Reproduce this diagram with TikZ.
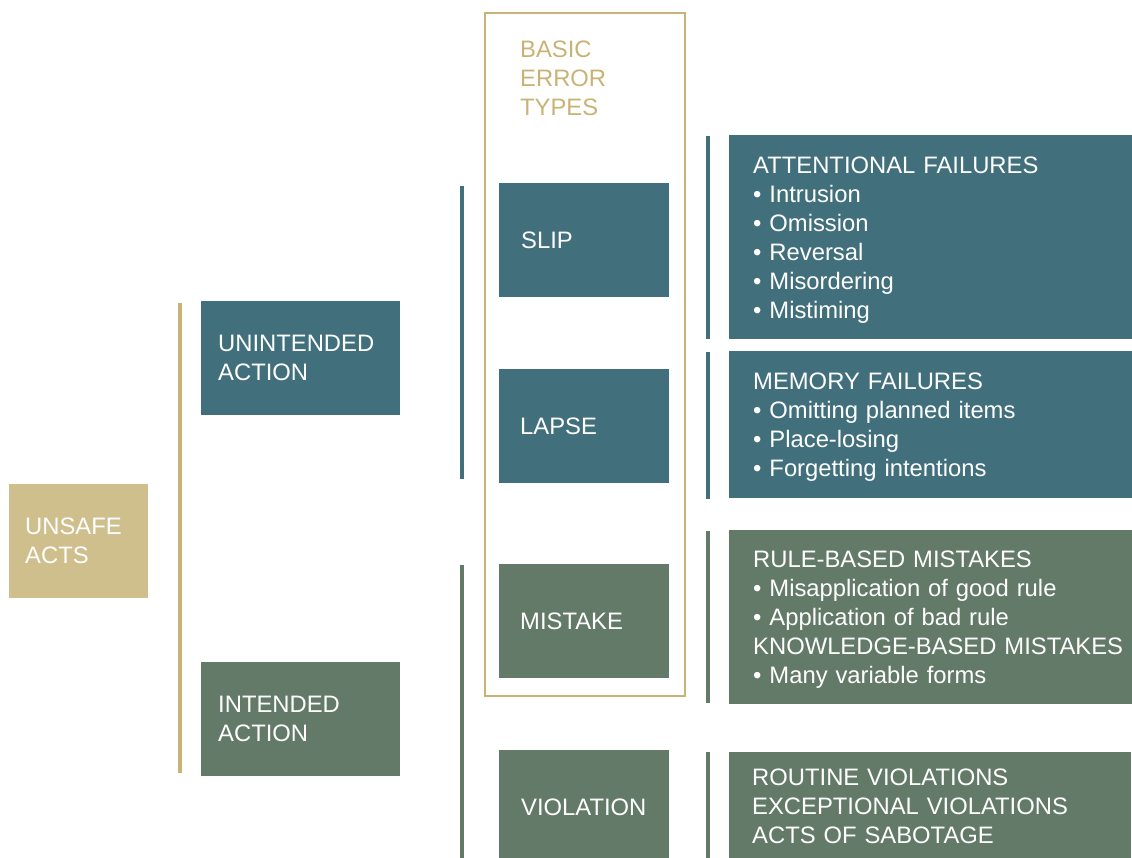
\documentclass[tikz,border=0pt]{standalone}
\usepackage{fontspec}
\setmainfont{Liberation Sans}
\definecolor{teal}{HTML}{41707C}
\definecolor{sage}{HTML}{647A69}
\definecolor{sand}{HTML}{CFBF8D}
\definecolor{sandline}{HTML}{C8B274}
% balances the descender of a list's last line, so the lines sit centred
\newcommand{\toplift}{\rule{0pt}{22pt}}
\begin{document}
\begin{tikzpicture}[x=1pt,y=-1pt,
  every node/.style={font=\fontsize{23.8}{29}\selectfont},
  box/.style={rectangle, anchor=north west, text=white, align=left,
              inner ysep=0pt},
  bar/.style={line width=4pt},
]
\useasboundingbox (0,0) rectangle (1132,858);

% level 1
\node[box, fill=sand, minimum height=114, inner xsep=16, text width=107] (unsafe) at (9,484) {UNSAFE\\ACTS};
\draw[bar, sandline] (179.5,303) coordinate (t1) -- (179.5,773) coordinate (b1);

% level 2
\node[box, fill=teal, minimum height=114, inner xsep=17, text width=165] (unint) at (201,301) {UNINTENDED\\ACTION};
\node[box, fill=sage, minimum height=114, inner xsep=17, text width=165] (intend) at (201,662) {INTENDED\\ACTION};
\draw[bar, teal] (461.5,186) coordinate (t2) -- (461.5,479) coordinate (b2);
\draw[bar, sage] (461.5,565) coordinate (t3) -- (461.5,870) coordinate (b3);

% basic error types frame
\node[rectangle, draw=sandline, line width=2pt, anchor=north west, minimum width=200, minimum height=683, inner sep=0] (frame) at (484,12) {};
\node[anchor=north west, inner sep=0, align=left, text=sandline] (title) at (520,41) {BASIC\\ERROR\\TYPES};

% level 3
\node[box, fill=teal, minimum height=114, inner xsep=22, text width=126] (slip) at (499,183) {SLIP};
\node[box, fill=teal, minimum height=114, inner xsep=21, text width=128] (lapse) at (499,369) {LAPSE};
\node[box, fill=sage, minimum height=114, inner xsep=21, text width=128] (mistake) at (499,564) {MISTAKE};
\node[box, fill=sage, minimum height=114, inner xsep=22, text width=126] (violation) at (499,750) {VIOLATION};

% level 4 bars
\draw[bar, teal] (708,136) coordinate (t4) -- (708,339) coordinate (b4);
\draw[bar, teal] (708,352) coordinate (t5) -- (708,499) coordinate (b5);
\draw[bar, sage] (708,531) coordinate (t6) -- (708,703) coordinate (b6);
\draw[bar, sage] (708,752) coordinate (t7) -- (708,870) coordinate (b7);

% level 4 descriptions
\node[box, fill=teal, minimum height=204, inner xsep=24, text width=355] (attn) at (729,135)
  {\toplift ATTENTIONAL FAILURES\\\textbullet\ Intrusion\\\textbullet\ Omission\\\textbullet\ Reversal\\\textbullet\ Misordering\\\textbullet\ Mistiming};
\node[box, fill=teal, minimum height=147, inner xsep=24, text width=355] (mem) at (729,351)
  {\toplift MEMORY FAILURES\\\textbullet\ Omitting planned items\\\textbullet\ Place-losing\\\textbullet\ Forgetting intentions};
\node[box, fill=sage, minimum height=174, inner xsep=24, text width=355] (rule) at (729,530)
  {\toplift RULE-BASED MISTAKES\\\textbullet\ Misapplication of good rule\\\textbullet\ Application of bad rule\\\mbox{KNOWLEDGE-BASED MISTAKES}\\\textbullet\ Many variable forms};
\node[box, fill=sage, minimum height=108, inner xsep=23, text width=356] (viol) at (729,752)
  {ROUTINE VIOLATIONS\\EXCEPTIONAL VIOLATIONS\\ACTS OF SABOTAGE};
\end{tikzpicture}
\end{document}
